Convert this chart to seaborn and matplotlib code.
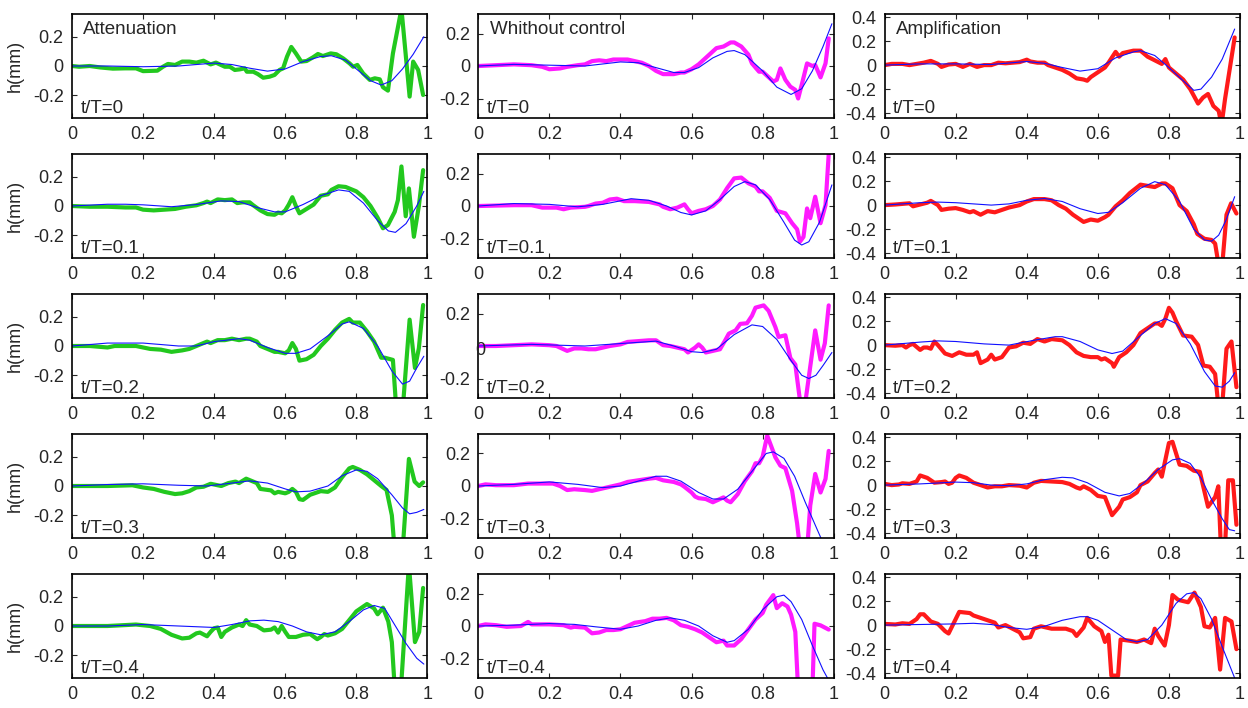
import matplotlib
matplotlib.use("Agg")
import matplotlib.pyplot as plt
import seaborn as sns

# ---------------- labels ----------------
x_ticks = [0, 0.2, 0.4, 0.6, 0.8, 1.0]
x_tick_labels = ['0', '0.2', '0.4', '0.6', '0.8', '1']
time_labels = ['t/T=0', 't/T=0.1', 't/T=0.2', 't/T=0.3', 't/T=0.4']
column_titles = ['Attenuation', 'Whithout control', 'Amplification']
y_label = 'h(mm)'
y_ticks_small = [-0.2, 0, 0.2]
y_tick_labels_small = ['-0.2', '0', '0.2']
y_ticks_large = [-0.4, -0.2, 0, 0.2, 0.4]
y_tick_labels_large = ['-0.4', '-0.2', '0', '0.2', '0.4']

# ---------------- data: Attenuation (measured = green, model = blue) ----------------
att_t0_meas = [(0,0),(0.02,-0.005),(0.05,0),(0.08,-0.01),(0.115,-0.018),(0.15,-0.016),(0.18,-0.016),(0.2,-0.035),
    (0.24,-0.032),(0.256,-0.005),(0.27,0.014),(0.29,0.007),(0.31,0.03),(0.33,0.03),(0.35,0.023),(0.37,0.036),
    (0.39,0.011),(0.405,0.023),(0.43,-0.005),(0.444,-0.005),(0.458,-0.027),(0.472,-0.023),(0.486,-0.016),
    (0.492,-0.039),(0.51,-0.039),(0.523,-0.055),(0.538,-0.08),(0.556,-0.073),(0.57,-0.061),(0.584,-0.027),
    (0.594,-0.016),(0.605,0.064),(0.617,0.13),(0.63,0.086),(0.645,0.03),(0.66,0.034),(0.678,0.059),(0.692,0.082),
    (0.706,0.068),(0.728,0.086),(0.744,0.08),(0.763,0.052),(0.781,0.018),(0.791,-0.005),(0.803,0.007),
    (0.819,-0.05),(0.838,-0.095),(0.852,-0.084),(0.866,-0.091),(0.875,-0.145),(0.889,-0.168),(0.903,0.086),
    (0.927,0.39),(0.95,-0.209),(0.96,0.03),(0.974,-0.027),(0.988,-0.198)]
att_t0_model = [(0,0),(0.1,0.0),(0.2,-0.005),(0.3,0.0),(0.4,0.02),(0.45,0.01),(0.5,-0.015),(0.55,-0.035),(0.6,-0.02),
    (0.65,0.03),(0.7,0.065),(0.73,0.07),(0.77,0.04),(0.8,-0.02),(0.84,-0.1),(0.87,-0.13),(0.9,-0.1),(0.93,-0.02),
    (0.96,0.08),(0.99,0.2)]

att_t1_meas = [(0,0),(0.05,-0.005),(0.1,-0.005),(0.15,-0.01),(0.18,-0.01),(0.2,-0.025),(0.23,-0.03),(0.26,-0.025),
    (0.29,-0.02),(0.32,-0.005),(0.35,0.005),(0.37,0.02),(0.38,0.03),(0.39,0.02),(0.41,0.045),(0.43,0.04),(0.45,0.045),
    (0.465,0.02),(0.48,0.025),(0.5,0.025),(0.51,0.005),(0.53,-0.03),(0.55,-0.055),(0.57,-0.06),(0.58,-0.045),
    (0.59,-0.05),(0.6,-0.03),(0.61,0.01),(0.62,0.06),(0.63,0.0),(0.64,-0.05),(0.66,-0.02),(0.68,0.01),(0.7,0.07),
    (0.72,0.08),(0.73,0.11),(0.75,0.135),(0.77,0.13),(0.8,0.1),(0.82,0.06),(0.84,0.0),(0.86,-0.08),(0.875,-0.152),
    (0.889,-0.13),(0.908,-0.04),(0.917,0.04),(0.927,0.27),(0.939,-0.07),(0.948,0.12),(0.962,-0.21),(0.976,0.0),
    (0.988,0.245)]
att_t1_model = [(0,0),(0.1,0.012),(0.15,0.012),(0.2,0.008),(0.28,-0.005),(0.35,0.01),(0.42,0.035),(0.47,0.03),
    (0.52,-0.01),(0.57,-0.04),(0.6,-0.04),(0.65,0.01),(0.7,0.07),(0.75,0.11),(0.78,0.1),(0.82,0.02),(0.86,-0.1),
    (0.89,-0.17),(0.91,-0.18),(0.94,-0.12),(0.97,0.0),(0.99,0.1)]

att_t2_meas = [(0,0),(0.05,0),(0.1,-0.01),(0.12,0),(0.18,0.0),(0.2,-0.01),(0.22,-0.02),(0.25,-0.025),(0.28,-0.04),
    (0.31,-0.03),(0.33,-0.02),(0.35,0.0),(0.37,0.02),(0.38,0.03),(0.39,0.02),(0.41,0.04),(0.43,0.04),(0.45,0.05),
    (0.47,0.04),(0.49,0.05),(0.5,0.05),(0.52,0.03),(0.53,0.0),(0.55,-0.02),(0.57,-0.04),(0.58,-0.04),(0.6,-0.05),
    (0.61,-0.03),(0.62,0.02),(0.63,-0.02),(0.64,-0.1),(0.66,-0.09),(0.68,-0.06),(0.7,0.0),(0.72,0.05),(0.74,0.11),
    (0.76,0.16),(0.78,0.185),(0.79,0.16),(0.81,0.16),(0.83,0.1),(0.85,0.03),(0.87,-0.08),(0.88,-0.08),(0.903,-0.095),
    (0.913,-0.45),(0.93,-0.45),(0.95,0.18),(0.965,-0.15),(0.976,-0.015),(0.988,0.28)]
att_t2_model = [(0,0),(0.1,0.02),(0.2,0.02),(0.3,0.0),(0.35,0.0),(0.4,0.03),(0.47,0.05),(0.5,0.04),(0.55,-0.01),
    (0.6,-0.05),(0.63,-0.05),(0.67,-0.02),(0.72,0.07),(0.76,0.15),(0.78,0.165),(0.82,0.12),(0.86,0.0),(0.9,-0.17),
    (0.93,-0.26),(0.95,-0.24),(0.97,-0.15),(0.99,-0.07)]

att_t3_meas = [(0,0),(0.1,0.0),(0.17,0.005),(0.2,-0.01),(0.23,-0.02),(0.26,-0.04),(0.29,-0.055),(0.31,-0.05),
    (0.33,-0.035),(0.35,-0.01),(0.37,-0.005),(0.39,0.015),(0.4,0.01),(0.42,0.0),(0.44,0.02),(0.46,0.03),(0.47,0.02),
    (0.49,0.05),(0.5,0.04),(0.52,0.02),(0.53,-0.02),(0.56,-0.03),(0.57,-0.05),(0.58,-0.04),(0.6,-0.05),(0.61,-0.04),
    (0.62,-0.02),(0.63,-0.04),(0.64,-0.09),(0.65,-0.095),(0.67,-0.06),(0.7,-0.035),(0.72,-0.04),(0.74,-0.01),
    (0.76,0.06),(0.78,0.12),(0.79,0.13),(0.81,0.11),(0.83,0.08),(0.85,0.04),(0.87,0.0),(0.885,-0.027),(0.9,-0.2),
    (0.91,-0.5),(0.93,-0.45),(0.948,0.185),(0.964,0.03),(0.977,0.0),(0.988,0.025)]
att_t3_model = [(0,0),(0.1,0.01),(0.2,0.015),(0.3,0.005),(0.38,0.0),(0.45,0.02),(0.5,0.035),(0.55,0.02),(0.6,-0.02),
    (0.63,-0.04),(0.67,-0.035),(0.72,0.0),(0.76,0.07),(0.8,0.11),(0.83,0.1),(0.86,0.05),(0.9,-0.06),(0.93,-0.15),
    (0.95,-0.19),(0.97,-0.18),(0.99,-0.16)]

att_t4_meas = [(0,0),(0.1,0.0),(0.18,0.01),(0.22,0.0),(0.25,-0.02),(0.28,-0.06),(0.31,-0.085),(0.33,-0.08),
    (0.35,-0.05),(0.36,-0.045),(0.38,-0.07),(0.39,-0.04),(0.4,-0.015),(0.41,-0.01),(0.42,-0.075),(0.43,-0.04),
    (0.45,-0.01),(0.47,0.01),(0.48,0.0),(0.49,0.04),(0.5,0.01),(0.52,0.0),(0.54,-0.03),(0.56,-0.025),(0.57,-0.01),
    (0.58,-0.045),(0.59,0.0),(0.6,-0.04),(0.61,-0.075),(0.63,-0.075),(0.65,-0.06),(0.67,-0.055),(0.69,-0.09),
    (0.7,-0.075),(0.71,-0.055),(0.72,-0.065),(0.74,-0.05),(0.76,-0.02),(0.78,0.04),(0.8,0.1),(0.83,0.15),(0.85,0.12),
    (0.86,0.08),(0.875,0.125),(0.89,0.03),(0.9,-0.11),(0.91,-0.5),(0.925,-0.45),(0.948,0.42),(0.965,-0.11),
    (0.977,-0.04),(0.988,0.26)]
att_t4_model = [(0,0),(0.1,0.0),(0.2,0.01),(0.3,0.0),(0.35,-0.005),(0.4,-0.01),(0.45,0.01),(0.5,0.035),(0.54,0.04),
    (0.58,0.03),(0.62,0.0),(0.66,-0.04),(0.7,-0.06),(0.74,-0.04),(0.78,0.03),(0.82,0.11),(0.85,0.14),(0.88,0.12),
    (0.91,0.0),(0.94,-0.12),(0.97,-0.22),(0.99,-0.26)]

# ---------------- data: Whithout control (measured = magenta) ----------------
wc_t0_meas = [(0,0),(0.05,0.005),(0.1,0.01),(0.15,0.005),(0.18,-0.005),(0.2,-0.02),(0.23,-0.015),(0.25,-0.005),
    (0.28,0.005),(0.3,0.01),(0.32,0.03),(0.34,0.035),(0.36,0.03),(0.38,0.04),(0.4,0.04),(0.42,0.04),(0.44,0.03),
    (0.46,0.02),(0.48,0.0),(0.5,-0.03),(0.52,-0.05),(0.55,-0.05),(0.57,-0.04),(0.58,-0.04),(0.6,-0.02),(0.62,0.01),
    (0.64,0.05),(0.66,0.09),(0.67,0.11),(0.69,0.12),(0.71,0.145),(0.72,0.145),(0.74,0.12),(0.76,0.07),(0.77,0.016),
    (0.79,-0.035),(0.8,-0.035),(0.82,-0.075),(0.83,-0.095),(0.84,-0.085),(0.85,-0.015),(0.864,-0.085),
    (0.878,-0.127),(0.892,-0.147),(0.9,-0.2),(0.91,-0.116),(0.925,0.016),(0.94,0.0),(0.948,0.006),(0.963,-0.07),
    (0.977,0.016),(0.986,0.17)]
wc_t0_model = [(0,0),(0.1,0.01),(0.2,0.005),(0.3,0.0),(0.4,0.025),(0.45,0.02),(0.5,-0.01),(0.55,-0.04),(0.58,-0.04),
    (0.62,-0.01),(0.66,0.05),(0.7,0.09),(0.72,0.095),(0.75,0.07),(0.8,-0.03),(0.84,-0.13),(0.88,-0.175),(0.91,-0.14),
    (0.94,-0.03),(0.97,0.12),(0.995,0.26)]

wc_t1_meas = [(0,0),(0.1,0.005),(0.15,0.005),(0.18,-0.01),(0.22,-0.01),(0.24,-0.02),(0.26,-0.01),(0.3,-0.005),
    (0.31,0.0),(0.33,0.015),(0.35,0.02),(0.37,0.04),(0.39,0.045),(0.41,0.03),(0.44,0.03),(0.48,0.025),(0.51,0.01),
    (0.52,-0.005),(0.54,-0.02),(0.56,-0.01),(0.58,0.01),(0.59,-0.02),(0.6,-0.045),(0.62,-0.03),(0.64,-0.02),
    (0.66,0.0),(0.68,0.04),(0.7,0.11),(0.72,0.17),(0.74,0.175),(0.76,0.14),(0.78,0.12),(0.79,0.09),(0.8,0.09),
    (0.82,0.05),(0.84,-0.03),(0.864,-0.045),(0.883,-0.106),(0.897,-0.143),(0.905,-0.22),(0.915,-0.19),
    (0.925,-0.015),(0.934,-0.075),(0.948,0.057),(0.963,-0.106),(0.977,0.006),(0.986,0.32)]
wc_t1_model = [(0,0),(0.1,0.015),(0.2,0.01),(0.28,-0.005),(0.35,0.01),(0.43,0.045),(0.48,0.035),(0.53,0.0),
    (0.57,-0.04),(0.6,-0.055),(0.64,-0.03),(0.68,0.04),(0.72,0.12),(0.75,0.15),(0.78,0.13),(0.82,0.04),(0.86,-0.1),
    (0.89,-0.21),(0.91,-0.24),(0.93,-0.22),(0.96,-0.1),(0.995,0.13)]

wc_t2_meas = [(0,0),(0.05,0.0),(0.1,0.005),(0.15,0.01),(0.2,0.005),(0.22,0.0),(0.24,-0.02),(0.25,-0.03),
    (0.27,-0.015),(0.29,-0.015),(0.31,-0.02),(0.33,-0.02),(0.35,-0.01),(0.37,0.0),(0.4,0.01),(0.42,0.025),
    (0.45,0.03),(0.48,0.035),(0.5,0.035),(0.52,0.005),(0.54,0.0),(0.56,-0.01),(0.58,-0.02),(0.59,-0.04),
    (0.6,-0.025),(0.61,-0.01),(0.62,0.01),(0.63,-0.01),(0.64,-0.04),(0.66,-0.03),(0.68,-0.02),(0.695,0.036),
    (0.705,0.076),(0.724,0.096),(0.737,0.136),(0.756,0.14),(0.77,0.186),(0.78,0.236),(0.803,0.25),(0.817,0.216),
    (0.836,0.116),(0.845,0.056),(0.864,0.066),(0.878,-0.074),(0.892,-0.114),(0.906,-0.35),(0.92,-0.35),
    (0.948,0.096),(0.963,-0.084),(0.975,0.016),(0.986,0.25)]
wc_t2_model = [(0,0),(0.15,0.01),(0.3,0.0),(0.4,0.015),(0.5,0.03),(0.55,0.0),(0.6,-0.035),(0.63,-0.04),
    (0.67,-0.02),(0.72,0.07),(0.77,0.13),(0.8,0.12),(0.84,0.04),(0.88,-0.09),(0.91,-0.18),(0.93,-0.2),(0.95,-0.18),
    (0.97,-0.12),(0.995,-0.04)]

wc_t3_meas = [(0,0),(0.02,0.01),(0.05,0.005),(0.1,0.005),(0.14,0.015),(0.18,0.015),(0.21,0.015),(0.23,0.0),
    (0.25,-0.025),(0.27,-0.02),(0.3,-0.025),(0.32,-0.03),(0.35,-0.015),(0.38,0.0),(0.4,0.01),(0.42,0.025),
    (0.45,0.035),(0.48,0.045),(0.5,0.05),(0.52,0.035),(0.55,0.025),(0.57,0.01),(0.58,-0.005),(0.6,-0.04),
    (0.61,-0.065),(0.62,-0.075),(0.64,-0.08),(0.66,-0.1),(0.68,-0.08),(0.69,-0.07),(0.7,-0.09),(0.71,-0.1),
    (0.73,-0.05),(0.75,0.03),(0.77,0.09),(0.78,0.14),(0.79,0.14),(0.8,0.18),(0.813,0.31),(0.836,0.176),(0.85,0.125),
    (0.864,0.11),(0.883,-0.03),(0.897,-0.23),(0.906,-0.4),(0.925,-0.4),(0.934,-0.12),(0.948,0.074),(0.963,-0.04),
    (0.977,0.044),(0.986,0.216)]
wc_t3_model = [(0,0),(0.1,0.01),(0.2,0.025),(0.28,0.01),(0.35,-0.01),(0.4,0.0),(0.45,0.03),(0.5,0.06),(0.53,0.06),
    (0.57,0.03),(0.62,-0.04),(0.66,-0.08),(0.69,-0.08),(0.73,-0.02),(0.77,0.09),(0.81,0.2),(0.83,0.21),(0.86,0.17),
    (0.89,0.06),(0.92,-0.1),(0.95,-0.25),(0.97,-0.35)]

wc_t4_meas = [(0,0),(0.02,0.01),(0.05,0.005),(0.08,-0.005),(0.12,0.0),(0.14,0.025),(0.15,0.01),(0.2,0.01),
    (0.24,0.005),(0.26,-0.01),(0.27,-0.005),(0.3,-0.01),(0.32,-0.045),(0.34,-0.04),(0.36,-0.025),(0.38,-0.025),
    (0.4,-0.02),(0.42,0.0),(0.44,0.02),(0.47,0.03),(0.49,0.045),(0.51,0.045),(0.53,0.05),(0.55,0.035),(0.57,0.005),
    (0.59,-0.005),(0.61,-0.02),(0.63,-0.04),(0.65,-0.07),(0.67,-0.1),(0.69,-0.09),(0.7,-0.12),(0.72,-0.12),
    (0.74,-0.08),(0.76,-0.02),(0.78,0.04),(0.8,0.08),(0.81,0.13),(0.83,0.19),(0.84,0.11),(0.855,0.14),(0.87,0.12),
    (0.88,0.07),(0.892,-0.036),(0.9,-0.4),(0.94,-0.4),(0.946,0.014),(0.963,0.004),(0.986,-0.022)]
wc_t4_model = [(0,0),(0.1,0.005),(0.2,0.015),(0.27,0.01),(0.33,-0.005),(0.4,-0.02),(0.45,0.0),(0.5,0.035),
    (0.54,0.05),(0.58,0.035),(0.62,0.0),(0.66,-0.06),(0.7,-0.1),(0.72,-0.09),(0.76,-0.02),(0.8,0.1),(0.84,0.18),
    (0.86,0.19),(0.88,0.15),(0.91,0.04),(0.94,-0.12),(0.97,-0.27),(0.99,-0.35)]

# ---------------- data: Amplification (measured = red) ----------------
amp_t0_meas = [(0,0),(0.02,0.01),(0.05,0.01),(0.07,0.0),(0.09,0.01),(0.11,0.02),(0.13,0.035),(0.15,0.01),
    (0.16,-0.015),(0.18,0.005),(0.2,0.01),(0.22,-0.015),(0.24,0.01),(0.26,-0.015),(0.28,0.0),(0.3,0.0),(0.32,0.02),
    (0.34,0.015),(0.36,0.02),(0.38,0.025),(0.4,0.045),(0.41,0.03),(0.43,0.02),(0.45,0.02),(0.46,0.0),(0.48,-0.02),
    (0.5,-0.04),(0.52,-0.07),(0.54,-0.11),(0.56,-0.12),(0.57,-0.13),(0.58,-0.1),(0.6,-0.06),(0.62,-0.02),
    (0.63,0.02),(0.65,0.11),(0.66,0.07),(0.67,0.1),(0.7,0.12),(0.72,0.12),(0.74,0.07),(0.76,0.04),(0.78,0.01),
    (0.79,0.05),(0.8,-0.02),(0.82,-0.07),(0.84,-0.12),(0.86,-0.2),(0.882,-0.32),(0.896,-0.27),(0.91,-0.24),
    (0.925,-0.34),(0.94,-0.38),(0.948,-0.5),(0.958,-0.28),(0.985,0.23)]
amp_t0_model = [(0,0),(0.1,0.01),(0.2,0.01),(0.3,0.005),(0.4,0.03),(0.45,0.015),(0.5,-0.02),(0.55,-0.05),
    (0.6,-0.03),(0.65,0.06),(0.7,0.11),(0.72,0.12),(0.76,0.08),(0.8,-0.02),(0.84,-0.13),(0.87,-0.21),(0.89,-0.2),
    (0.92,-0.1),(0.95,0.05),(0.985,0.3)]

amp_t1_meas = [(0,0),(0.03,0.005),(0.05,0.01),(0.07,0.015),(0.08,-0.01),(0.1,0.005),(0.12,0.02),(0.13,0.035),
    (0.15,0.0),(0.16,-0.04),(0.18,-0.03),(0.2,-0.025),(0.22,-0.04),(0.24,-0.06),(0.25,-0.05),(0.27,-0.08),
    (0.29,-0.05),(0.31,-0.06),(0.33,-0.04),(0.35,-0.02),(0.38,0.0),(0.4,0.03),(0.42,0.05),(0.45,0.05),(0.47,0.04),
    (0.49,0.0),(0.51,-0.03),(0.53,-0.08),(0.55,-0.12),(0.56,-0.14),(0.58,-0.12),(0.6,-0.13),(0.62,-0.1),
    (0.63,-0.08),(0.65,-0.01),(0.67,0.04),(0.69,0.1),(0.72,0.17),(0.74,0.16),(0.76,0.15),(0.78,0.18),(0.79,0.18),
    (0.81,0.14),(0.83,0.0),(0.85,-0.05),(0.87,-0.16),(0.88,-0.24),(0.9,-0.28),(0.92,-0.29),(0.93,-0.32),
    (0.94,-0.5),(0.95,-0.5),(0.962,-0.08),(0.975,0.015),(0.99,-0.07)]
amp_t1_model = [(0,0),(0.1,0.02),(0.15,0.025),(0.2,0.02),(0.3,0.0),(0.35,0.01),(0.4,0.04),(0.45,0.055),(0.5,0.03),
    (0.55,-0.03),(0.6,-0.07),(0.63,-0.06),(0.67,0.02),(0.72,0.14),(0.76,0.195),(0.79,0.17),(0.83,0.03),(0.87,-0.2),
    (0.9,-0.29),(0.92,-0.3),(0.94,-0.25),(0.96,-0.13),(0.985,0.07)]

amp_t2_meas = [(0,0),(0.03,-0.005),(0.05,0.0),(0.06,-0.02),(0.07,0.0),(0.08,0.01),(0.1,-0.04),(0.11,-0.02),
    (0.12,-0.02),(0.13,-0.03),(0.14,0.03),(0.15,0.0),(0.17,-0.07),(0.19,-0.09),(0.21,-0.06),(0.23,-0.08),
    (0.25,-0.08),(0.26,-0.06),(0.27,-0.15),(0.29,-0.12),(0.3,-0.08),(0.31,-0.12),(0.33,-0.1),(0.35,-0.02),
    (0.37,-0.01),(0.39,0.02),(0.41,0.01),(0.43,0.05),(0.45,0.03),(0.47,0.05),(0.5,0.04),(0.52,0.0),(0.54,-0.06),
    (0.56,-0.09),(0.58,-0.1),(0.6,-0.1),(0.61,-0.12),(0.62,-0.11),(0.64,-0.15),(0.645,-0.18),(0.66,-0.1),
    (0.68,-0.06),(0.7,0.0),(0.72,0.1),(0.74,0.14),(0.76,0.18),(0.77,0.18),(0.78,0.16),(0.79,0.22),(0.8,0.31),
    (0.81,0.27),(0.82,0.2),(0.84,0.08),(0.864,0.07),(0.882,0.0),(0.897,-0.17),(0.915,-0.18),(0.93,-0.24),
    (0.939,-0.5),(0.95,-0.5),(0.962,-0.03),(0.976,0.03),(0.99,-0.35)]
amp_t2_model = [(0,0),(0.1,0.025),(0.15,0.035),(0.2,0.03),(0.28,0.01),(0.35,0.0),(0.42,0.04),(0.48,0.07),(0.5,0.07),
    (0.55,0.03),(0.6,-0.04),(0.64,-0.07),(0.67,-0.05),(0.72,0.08),(0.76,0.18),(0.79,0.22),(0.82,0.18),(0.86,0.01),
    (0.9,-0.22),(0.93,-0.34),(0.95,-0.35),(0.97,-0.3),(0.985,-0.23)]

amp_t3_meas = [(0,0.01),(0.02,0.0),(0.04,0.005),(0.05,0.015),(0.07,0.01),(0.09,0.03),(0.1,0.08),(0.12,0.06),
    (0.14,0.02),(0.16,0.025),(0.17,0.03),(0.18,0.01),(0.19,0.02),(0.2,0.06),(0.21,0.08),(0.23,0.06),(0.25,0.02),
    (0.27,0.0),(0.29,-0.02),(0.31,-0.01),(0.33,-0.01),(0.35,0.0),(0.38,-0.005),(0.4,-0.02),(0.42,0.02),(0.44,0.035),
    (0.47,0.03),(0.5,0.025),(0.52,0.01),(0.54,-0.02),(0.55,-0.03),(0.56,-0.01),(0.58,-0.04),(0.6,-0.09),(0.62,-0.1),
    (0.64,-0.25),(0.66,-0.18),(0.67,-0.12),(0.69,-0.1),(0.71,-0.06),(0.72,0.0),(0.74,0.03),(0.76,0.1),(0.77,0.13),
    (0.78,0.07),(0.8,0.35),(0.81,0.36),(0.83,0.17),(0.85,0.16),(0.87,0.12),(0.887,0.11),(0.91,-0.18),(0.93,-0.1),
    (0.939,-0.01),(0.946,-0.5),(0.958,-0.5),(0.967,0.04),(0.98,0.04),(0.99,-0.33)]
amp_t3_model = [(0,0),(0.1,0.01),(0.2,0.025),(0.25,0.02),(0.3,0.0),(0.35,-0.005),(0.4,0.01),(0.45,0.045),(0.5,0.065),
    (0.53,0.06),(0.57,0.02),(0.62,-0.06),(0.66,-0.09),(0.69,-0.07),(0.73,0.02),(0.77,0.13),(0.81,0.21),(0.83,0.22),
    (0.86,0.18),(0.89,0.06),(0.92,-0.12),(0.95,-0.28),(0.97,-0.37),(0.985,-0.38)]

amp_t4_meas = [(0,0.01),(0.03,0.005),(0.05,0.015),(0.07,0.01),(0.09,0.05),(0.1,0.09),(0.11,0.09),(0.13,0.03),
    (0.15,0.01),(0.17,-0.05),(0.18,-0.07),(0.2,0.05),(0.21,0.11),(0.24,0.1),(0.25,0.08),(0.27,0.06),(0.29,0.04),
    (0.31,0.02),(0.32,-0.02),(0.34,0.0),(0.36,-0.03),(0.38,-0.06),(0.39,-0.11),(0.41,-0.1),(0.42,-0.03),(0.44,-0.01),
    (0.47,-0.03),(0.49,-0.03),(0.51,-0.03),(0.53,-0.05),(0.54,-0.09),(0.56,-0.02),(0.57,0.06),(0.59,-0.01),
    (0.61,-0.05),(0.62,-0.14),(0.63,-0.08),(0.638,-0.42),(0.657,-0.42),(0.664,-0.12),(0.69,-0.13),(0.71,-0.14),
    (0.73,-0.12),(0.75,-0.15),(0.76,-0.03),(0.77,-0.09),(0.788,-0.17),(0.8,0.0),(0.81,0.25),(0.826,0.21),
    (0.854,0.19),(0.872,0.27),(0.89,0.15),(0.9,-0.01),(0.915,-0.02),(0.93,0.06),(0.944,-0.37),(0.958,0.06),
    (0.976,0.03),(0.99,-0.2)]
amp_t4_model = [(0,0),(0.1,0.005),(0.2,0.01),(0.25,0.015),(0.3,0.005),(0.35,-0.02),(0.4,-0.035),(0.45,-0.01),
    (0.5,0.04),(0.55,0.07),(0.57,0.07),(0.6,0.04),(0.65,-0.06),(0.68,-0.12),(0.71,-0.14),(0.74,-0.12),(0.78,0.0),
    (0.82,0.18),(0.85,0.26),(0.87,0.27),(0.89,0.22),(0.92,0.05),(0.95,-0.18),(0.985,-0.44)]

measured = [
    [att_t0_meas, att_t1_meas, att_t2_meas, att_t3_meas, att_t4_meas],
    [wc_t0_meas, wc_t1_meas, wc_t2_meas, wc_t3_meas, wc_t4_meas],
    [amp_t0_meas, amp_t1_meas, amp_t2_meas, amp_t3_meas, amp_t4_meas],
]
model = [
    [att_t0_model, att_t1_model, att_t2_model, att_t3_model, att_t4_model],
    [wc_t0_model, wc_t1_model, wc_t2_model, wc_t3_model, wc_t4_model],
    [amp_t0_model, amp_t1_model, amp_t2_model, amp_t3_model, amp_t4_model],
]
meas_colors = ['#22c81e', '#ff1aff', '#ff1a1a']
model_color = '#1010ff'
y_limits = [(-0.355, 0.355), (-0.32, 0.32), (-0.44, 0.425)]

# ---------------- figure ----------------
sns.set_style('ticks')
plt.rcParams['font.family'] = ['Liberation Sans', 'DejaVu Sans']
plt.rcParams['axes.unicode_minus'] = False

fig, axes = plt.subplots(5, 3, figsize=(12.48, 7.08), dpi=100)
fig.subplots_adjust(left=72/1248, right=1240/1248, top=1-14/708, bottom=1-678/708,
                    wspace=51/356, hspace=36/104)

for c in range(3):
    for r in range(5):
        ax = axes[r, c]
        mx = [p[0] for p in measured[c][r]]
        my = [p[1] for p in measured[c][r]]
        bx = [p[0] for p in model[c][r]]
        by = [p[1] for p in model[c][r]]
        sns.lineplot(x=mx, y=my, ax=ax, color=meas_colors[c], linewidth=3.0,
                     sort=False, estimator=None)
        sns.lineplot(x=bx, y=by, ax=ax, color=model_color, linewidth=0.8,
                     sort=False, estimator=None)
        ax.set_xlim(0, 1)
        ax.set_ylim(*y_limits[c])
        ax.set_xticks(x_ticks)
        ax.set_xticklabels(x_tick_labels)
        if c == 2:
            ax.set_yticks(y_ticks_large)
            ax.set_yticklabels(y_tick_labels_large)
        else:
            ax.set_yticks(y_ticks_small)
            ax.set_yticklabels(y_tick_labels_small)
        ax.tick_params(direction='in', length=3.5, width=0.8, labelsize=13, pad=6,
                       top=True, right=True)
        for sp in ax.spines.values():
            sp.set_visible(True)
            sp.set_linewidth(1.2)
            sp.set_color('black')
        ax.text(0.024, 0.09, time_labels[r], transform=ax.transAxes, fontsize=13.5,
                ha='left', va='center')
        if r == 0:
            ax.text(0.032, 0.85, column_titles[c], transform=ax.transAxes, fontsize=13.5,
                    ha='left', va='center')
        if c == 0:
            ax.set_ylabel(y_label, fontsize=13)
            ax.yaxis.set_label_coords(-0.135, 0.5)

# quirk of the original: the "0" label of the middle panel is drawn inside the axes
odd_ax = axes[2, 1]
labels = odd_ax.get_yticklabels()
labels[1].set_visible(False)
odd_ax.text(0.005, -0.03, '0', fontsize=13, ha='center', va='center')

fig.savefig('out.png', dpi=100)
